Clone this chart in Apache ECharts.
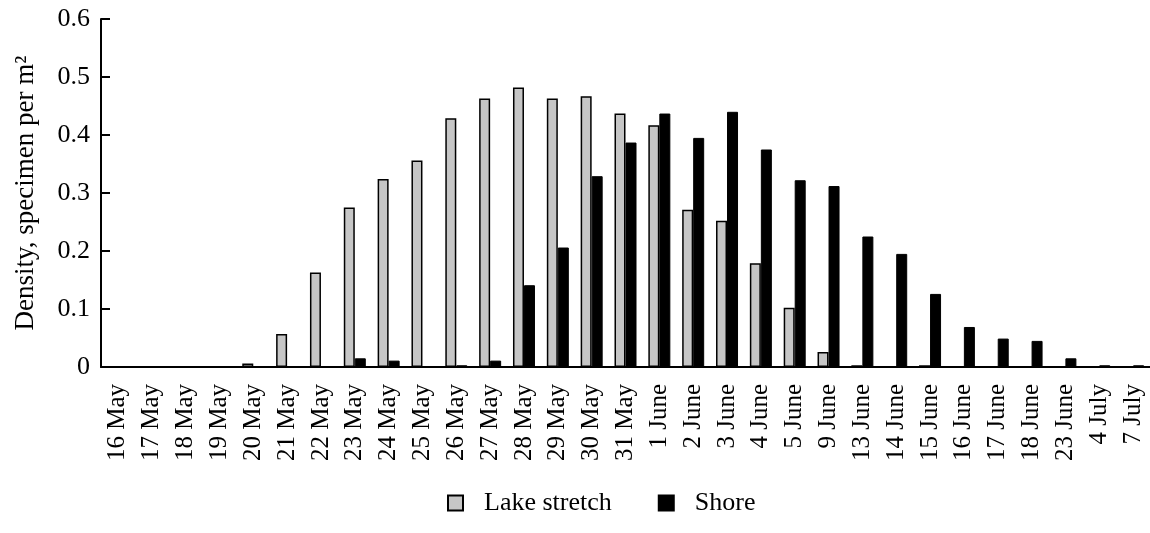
<!DOCTYPE html>
<html>
<head>
<meta charset="utf-8">
<script src="https://cdn.jsdelivr.net/npm/echarts@6/dist/echarts.min.js"></script>
<style>
html,body{margin:0;padding:0;background:#fff;}
#chart{width:1150px;height:533px;}
</style>
</head>
<body>
<div id="chart"></div>
<script>
const categories = ['16 May','17 May','18 May','19 May','20 May','21 May','22 May','23 May','24 May','25 May','26 May','27 May','28 May','29 May','30 May','31 May','1 June','2 June','3 June','4 June','5 June','9 June','13 June','14 June','15 June','16 June','17 June','18 June','23 June','4 July','7 July'];
const lakeStretch = [0,0,0,0,0.006,0.057,0.163,0.275,0.324,0.356,0.429,0.463,0.482,0.463,0.467,0.437,0.417,0.271,0.252,0.179,0.102,0.026,0.003,0,0.003,0,0,0,0,0,0];
const shore = [0,0,0,0,0,0,0,0.015,0.011,0,0.003,0.011,0.141,0.206,0.329,0.387,0.437,0.395,0.440,0.375,0.322,0.312,0.225,0.195,0.126,0.069,0.049,0.045,0.015,0.003,0.003];
const yTicks = [0, 0.1, 0.2, 0.3, 0.4, 0.5, 0.6];

const FONT = 'Liberation Serif';
const chart = echarts.init(document.getElementById('chart'));
chart.setOption({
  animation: false,
  backgroundColor: '#fff',
  textStyle: { fontFamily: FONT, color: '#000' },
  grid: { left: 101, top: 19, width: 1054, bottom: 166 },
  legend: {
    data: ['Lake stretch', 'Shore'],
    top: 490,
    left: 447,
    padding: 0,
    icon: 'rect',
    itemWidth: 15,
    itemHeight: 15,
    itemGap: 46,
    textStyle: { fontFamily: FONT, fontSize: 26, color: '#000', padding: [0, 0, 0, 16] }
  },
  xAxis: {
    type: 'category',
    data: categories,
    axisLine: { lineStyle: { color: '#000', width: 2 } },
    axisTick: { inside: true, length: 9, lineStyle: { color: '#000', width: 2 } },
    axisLabel: { rotate: 90, fontFamily: FONT, fontSize: 25, color: '#000', margin: 17, interval: 0 }
  },
  yAxis: {
    type: 'value',
    min: yTicks[0],
    max: yTicks[yTicks.length - 1],
    interval: 0.1,
    name: 'Density, specimen per m²',
    nameLocation: 'middle',
    nameGap: 62,
    nameTextStyle: { fontFamily: FONT, fontSize: 27, color: '#000' },
    axisLine: { show: true, lineStyle: { color: '#000', width: 2 } },
    axisTick: { show: true, inside: true, length: 9, lineStyle: { color: '#000', width: 2 } },
    axisLabel: { fontFamily: FONT, fontSize: 26, color: '#000', margin: 11 },
    splitLine: { show: false }
  },
  series: [
    {
      name: 'Lake stretch',
      type: 'bar',
      data: lakeStretch,
      barWidth: 11,
      barGap: '0%',
      itemStyle: { color: '#c6c6c6', borderColor: '#000', borderWidth: 1.5 }
    },
    {
      name: 'Shore',
      type: 'bar',
      data: shore,
      barWidth: 11,
      itemStyle: { color: '#000', borderColor: '#000', borderWidth: 1 }
    }
  ]
});
</script>
</body>
</html>
